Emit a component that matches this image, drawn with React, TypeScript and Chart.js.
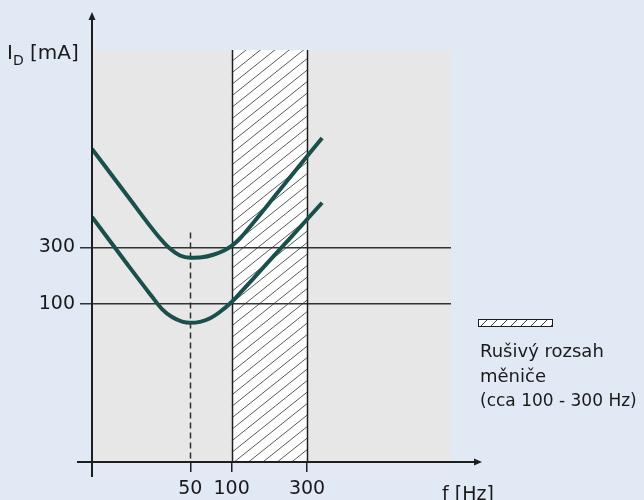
import React, { useEffect, useRef } from 'react';
import { Chart, registerables } from 'chart.js';

Chart.register(...registerables);

// Schematic frequency axis: position units along the plot (0..100), with the labelled frequencies
const freqTickLabels = ['50', '100', '300'];
const freqTickUnits = [27.4, 38.9, 59.9];
const bandStartUnit = 38.9; // 100 Hz
const bandEndUnit = 59.9; // 300 Hz
const markerUnit = 27.4; // 50 Hz dashed marker
const markerTopCurrent = 400; // mA, top of dashed marker

// Tripping current curves (mA, log axis)
const upperX = [0, 10.0, 18.4, 21.7, 24.5, 27.3, 30.6, 34.0, 36.8, 38.9, 41.2, 45.1, 52.4, 64.1];
const upperCurve = [2020, 803, 374, 293, 256, 245, 247, 261, 282, 308, 356, 490, 920, 2500];
const lowerX = [0, 10.0, 16.2, 19.5, 22.3, 25.1, 27.3, 30.1, 32.9, 35.7, 38.9, 41.8, 46.8, 55.2, 64.1];
const lowerCurve = [540, 213, 121, 90.7, 77.7, 71.2, 69.5, 70.8, 75.8, 86.1, 104, 129, 189, 359, 712];

const currentTicks = [100, 300];
const currentMin = 4.68;
const currentMax = 13740;

const FONT = 'DejaVu Sans';
const BG = '#e1e9f5';
const PLOT_BG = '#e7e7e8';
const CURVE = '#19504c';
const INK = '#1e1e1e';

function hatch(ctx: CanvasRenderingContext2D, x0: number, y0: number, w: number, h: number, gap: number, slope: number, color: string) {
  ctx.save();
  ctx.beginPath();
  ctx.rect(x0, y0, w, h);
  ctx.clip();
  ctx.fillStyle = '#ffffff';
  ctx.fillRect(x0, y0, w, h);
  ctx.strokeStyle = color;
  ctx.lineWidth = 1;
  for (let yy = y0; yy < y0 + h + w * slope + gap; yy += gap) {
    ctx.beginPath();
    ctx.moveTo(x0, yy);
    ctx.lineTo(x0 + w, yy - w * slope);
    ctx.stroke();
  }
  ctx.restore();
}

const schematicPlugin = {
  id: 'schematic',
  beforeDraw(chart: any) {
    const { ctx, chartArea: a, scales } = chart;
    const x = scales.x;
    ctx.save();
    ctx.fillStyle = BG;
    ctx.fillRect(0, 0, chart.width, chart.height);
    ctx.fillStyle = PLOT_BG;
    ctx.fillRect(a.left, a.top, a.right - a.left, a.bottom - a.top);
    const xs = x.getPixelForValue(bandStartUnit);
    const xe = x.getPixelForValue(bandEndUnit);
    hatch(ctx, xs, a.top, xe - xs, a.bottom - a.top, 11.5, 0.8, '#5a5a5a');
    ctx.restore();
  },
  beforeDatasetsDraw(chart: any) {
    const { ctx, chartArea: a, scales } = chart;
    const x = scales.x;
    const y = scales.y;
    ctx.save();
    // band borders
    ctx.strokeStyle = INK;
    ctx.lineWidth = 1.5;
    [bandStartUnit, bandEndUnit].forEach((u) => {
      const px = Math.round(x.getPixelForValue(u)) + 0.5;
      ctx.beginPath();
      ctx.moveTo(px, a.top);
      ctx.lineTo(px, a.bottom);
      ctx.stroke();
    });
    // dashed 50 Hz marker
    const mx = Math.round(x.getPixelForValue(markerUnit)) + 0.5;
    ctx.strokeStyle = '#2e2e2e';
    ctx.lineWidth = 1.5;
    ctx.setLineDash([6, 4]);
    ctx.beginPath();
    ctx.moveTo(mx, y.getPixelForValue(markerTopCurrent));
    ctx.lineTo(mx, a.bottom);
    ctx.stroke();
    ctx.restore();
  },
  afterDraw(chart: any) {
    const { ctx, chartArea: a } = chart;
    ctx.save();
    ctx.strokeStyle = INK;
    ctx.fillStyle = INK;
    ctx.lineWidth = 2;
    // y axis with arrow
    ctx.beginPath();
    ctx.moveTo(a.left, a.bottom + 15);
    ctx.lineTo(a.left, 19);
    ctx.stroke();
    ctx.beginPath();
    ctx.moveTo(a.left, 12);
    ctx.lineTo(a.left - 3.5, 20);
    ctx.lineTo(a.left + 3.5, 20);
    ctx.closePath();
    ctx.fill();
    // x axis with arrow
    ctx.beginPath();
    ctx.moveTo(a.left - 15, a.bottom);
    ctx.lineTo(474, a.bottom);
    ctx.stroke();
    ctx.beginPath();
    ctx.moveTo(482, a.bottom);
    ctx.lineTo(474, a.bottom - 3.5);
    ctx.lineTo(474, a.bottom + 3.5);
    ctx.closePath();
    ctx.fill();

    // axis titles
    ctx.fillStyle = '#1a1a1a';
    ctx.textBaseline = 'alphabetic';
    ctx.textAlign = 'left';
    ctx.font = `20px "${FONT}"`;
    let tx = 7;
    ctx.fillText('I', tx, 59);
    tx += ctx.measureText('I').width;
    ctx.font = `14px "${FONT}"`;
    ctx.fillText('D', tx, 65);
    tx += ctx.measureText('D').width;
    ctx.font = `20px "${FONT}"`;
    ctx.fillText(' [mA]', tx, 59);
    ctx.font = `19px "${FONT}"`;
    ctx.fillText('f [Hz]', 442, 500);

    // legend
    hatch(ctx, 478, 319, 74, 7, 10, 1, '#3a3a3a');
    ctx.strokeStyle = INK;
    ctx.lineWidth = 1;
    ctx.strokeRect(478.5, 319.5, 74, 7);
    ctx.fillStyle = '#1a1a1a';
    ctx.font = `18px "${FONT}"`;
    ctx.fillText('Rušivý rozsah', 480, 357);
    ctx.fillText('měniče', 480, 382);
    ctx.font = `17px "${FONT}"`;
    ctx.fillText('(cca 100 - 300 Hz)', 480, 406);
    ctx.restore();
  },
};

export default function App() {
  const canvasRef = useRef<HTMLCanvasElement>(null);

  useEffect(() => {
    if (!canvasRef.current) return;
    const chart = new Chart(canvasRef.current, {
      type: 'line',
      data: {
        datasets: [
          {
            label: 'upper',
            data: upperX.map((v, i) => ({ x: v, y: upperCurve[i] })),
            borderColor: CURVE,
            borderWidth: 4,
            pointRadius: 0,
            cubicInterpolationMode: 'monotone',
            fill: false,
          },
          {
            label: 'lower',
            data: lowerX.map((v, i) => ({ x: v, y: lowerCurve[i] })),
            borderColor: CURVE,
            borderWidth: 4,
            pointRadius: 0,
            cubicInterpolationMode: 'monotone',
            fill: false,
          },
        ],
      },
      options: {
        responsive: false,
        animation: false,
        devicePixelRatio: 1,
        layout: { padding: { left: 0, top: 50, right: 193, bottom: 0 } },
        plugins: { legend: { display: false }, tooltip: { enabled: false } },
        scales: {
          x: {
            type: 'linear',
            position: 'bottom',
            min: 0,
            max: 100,
            afterBuildTicks: (s: any) => {
              s.ticks = freqTickUnits.map((v) => ({ value: v }));
            },
            afterFit: (s: any) => {
              s.height = 38;
            },
            grid: { drawOnChartArea: false, drawTicks: true, tickLength: 10, color: INK, lineWidth: 1.5 },
            border: { display: false },
            ticks: {
              autoSkip: false,
              maxRotation: 0,
              padding: 6,
              color: '#1a1a1a',
              font: { family: FONT, size: 19 },
              callback: (_v: any, i: number) => freqTickLabels[i],
            },
          },
          y: {
            type: 'logarithmic',
            position: 'left',
            min: currentMin,
            max: currentMax,
            afterBuildTicks: (s: any) => {
              s.ticks = currentTicks.map((v) => ({ value: v }));
            },
            afterFit: (s: any) => {
              s.width = 92;
            },
            grid: { drawOnChartArea: true, drawTicks: true, tickLength: 12, color: '#333333', lineWidth: 1.5 },
            border: { display: false },
            ticks: {
              autoSkip: false,
              padding: 5,
              color: '#1a1a1a',
              font: { family: FONT, size: 19 },
              callback: (v: any) => String(v),
            },
          },
        },
      },
      plugins: [schematicPlugin],
    } as any);
    return () => chart.destroy();
  }, []);

  return (
    <div style={{ position: 'fixed', left: 0, top: 0, width: 644, height: 500, background: BG }}>
      <canvas ref={canvasRef} width={644} height={500} style={{ display: 'block' }} />
    </div>
  );
}
